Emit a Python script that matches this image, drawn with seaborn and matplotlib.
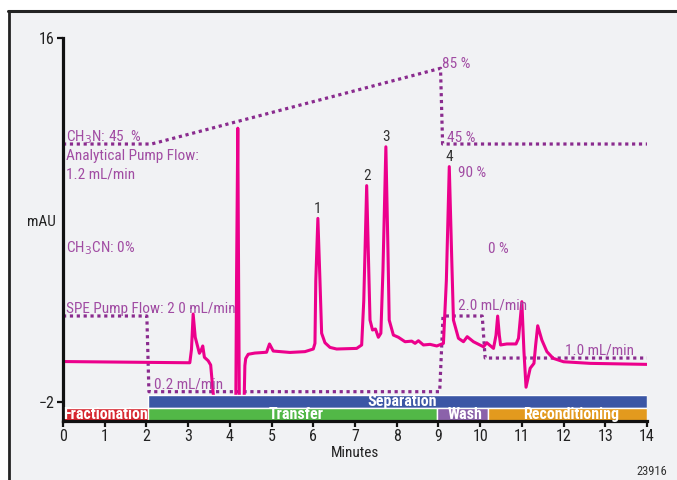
import matplotlib
matplotlib.use("Agg")
import matplotlib.pyplot as plt
from matplotlib import font_manager as fm
from matplotlib.patches import Rectangle
from matplotlib.lines import Line2D
import pandas as pd
import seaborn as sns

# UV trace of the online SPE / HPLC run (minutes, mAU)
trace_min = [0.0, 1.0, 2.0, 3.04, 3.08, 3.12, 3.17, 3.27, 3.31, 3.35, 3.39, 3.48,
             3.54, 3.60, 3.66, 3.75, 4.0, 4.14, 4.16, 4.19, 4.21, 4.23, 4.33, 4.36,
             4.38, 4.44, 4.6, 4.88, 4.95, 5.04, 5.44, 5.80, 6.0, 6.04, 6.06, 6.11,
             6.16, 6.20, 6.28, 6.40, 6.56, 7.04, 7.16, 7.21, 7.28, 7.33, 7.36, 7.42,
             7.49, 7.56, 7.62, 7.67, 7.74, 7.79, 7.82, 7.92, 8.04, 8.20, 8.36, 8.44,
             8.52, 8.64, 8.80, 8.96, 9.12, 9.19, 9.26, 9.32, 9.36, 9.48, 9.60, 9.69,
             9.84, 10.08, 10.16, 10.32, 10.38, 10.42, 10.46, 10.49, 10.64, 10.86,
             10.92, 11.00, 11.05, 11.10, 11.20, 11.29, 11.33, 11.38, 11.48, 11.60,
             11.75, 12.0, 12.64, 14.0]
trace_mau = [0.0, -0.02, -0.04, -0.06, 0.6, 2.35, 1.2, 0.41, 0.55, 0.77, 0.21, 0.04,
             -0.17, -1.56, -2.6, -3.1, -3.1, -3.0, 4.0, 11.54, 4.0, -3.0, -3.1, -0.2,
             0.15, 0.36, 0.42, 0.46, 0.87, 0.52, 0.45, 0.49, 0.62, 0.9, 4.0, 7.08,
             4.0, 1.40, 0.93, 0.70, 0.62, 0.65, 0.82, 3.0, 8.70, 4.5, 2.05, 1.56,
             1.61, 1.20, 1.40, 4.5, 10.62, 5.5, 2.05, 1.31, 1.20, 0.98, 1.01, 0.90,
             1.03, 0.82, 0.85, 0.77, 0.90, 4.0, 9.64, 5.0, 2.05, 1.15, 0.98, 1.23,
             0.98, 0.73, 0.93, 0.65, 1.3, 2.25, 1.3, 0.82, 0.87, 0.87,
             1.15, 2.96, 0.5, -1.27, -0.33, -0.09, 0.8, 1.77, 1.06, 0.49,
             0.16, -0.01, -0.09, -0.14]

# CH3CN gradient of the analytical pump (%)
grad_min = [0.0, 2.12, 9.05, 9.10, 14.0]
grad_pct = [45, 45, 85, 45, 45]

# SPE pump flow (mL/min)
flow_min = [0.0, 2.01, 2.06, 9.03, 9.11, 10.05, 10.12, 14.0]
flow_ml = [2.0, 2.0, 0.2, 0.2, 2.0, 2.0, 1.0, 1.0]

# method steps
phase_names = ["Fractionation", "Transfer", "Wash", "Reconditioning"]
phase_start = [0.0, 2.04, 8.97, 10.2]
phase_end = [2.04, 8.97, 10.2, 14.0]
phase_colors = ["#d7262f", "#52b847", "#8b62aa", "#e39a1e"]
sep_name = "Separation"
sep_start, sep_end = 2.04, 14.0

# numbered analyte peaks
peak_ids = ["1", "2", "3", "4"]
peak_min = [6.11, 7.28, 7.74, 9.26]
peak_mau = [7.08, 8.70, 10.62, 9.64]

x_ticks = list(range(0, 15))
y_ticks = [16, -2]

sns.set_style("ticks")

# prefer a narrow sans face for the labels
available = {f.name for f in fm.fontManager.ttflist}
condensed_faces = {f.name for f in fm.fontManager.ttflist
                   if f.stretch in ("condensed", "semi-condensed", "extra-condensed")}
family = []
for name in ["Liberation Sans Narrow", "Roboto Condensed", "Open Sans Condensed",
             "Noto Sans Condensed", "Arial Narrow"]:
    if name in available:
        family.append(name)
if not family:
    for name in ["DejaVu Sans", "Roboto", "Open Sans", "Noto Sans"]:
        if name in condensed_faces:
            family.append(name)
            plt.rcParams["font.stretch"] = "condensed"
            break
family.append("DejaVu Sans")
plt.rcParams["font.family"] = family
plt.rcParams["axes.unicode_minus"] = True

TRACE = "#ec008c"
DOT = "#8a2b8e"
NOTE = "#a14ca3"

fig = plt.figure(figsize=(6.77, 4.8), dpi=100)
fig.patch.set_facecolor("white")

# panel background with its dark top/left border
W, H = 677.0, 480.0
fig.patches.append(Rectangle((8 / W, 0), 1, 1 - 11 / H, transform=fig.transFigure,
                             facecolor="#f1f2f4", edgecolor="none", zorder=0))
fig.lines.append(Line2D([8 / W, 1], [1 - 11 / H, 1 - 11 / H], transform=fig.transFigure,
                        color="#232323", lw=2.2, zorder=1))
fig.lines.append(Line2D([8.5 / W, 8.5 / W], [0, 1 - 11 / H], transform=fig.transFigure,
                        color="#232323", lw=2.0, zorder=1))

ax = fig.add_axes([63 / W, 1 - 421 / H, 584 / W, 383 / H])
ax_g = ax.twinx()
ax_f = ax.twinx()
for a in (ax_g, ax_f):
    a.set_zorder(1)
    a.axis("off")
ax.set_zorder(3)
ax.patch.set_visible(False)

# gradient and flow programmes as dotted step lines
sns.lineplot(x=grad_min, y=grad_pct, ax=ax_g, color=DOT, lw=2.3,
             linestyle=(0, (1, 1.15)), sort=False, estimator=None)
sns.lineplot(x=flow_min, y=flow_ml, ax=ax_f, color=DOT, lw=2.3,
             linestyle=(0, (1, 1.15)), sort=False, estimator=None)
ax_g.set_ylim(-101.3, 101.0)
ax_f.set_ylim(-0.497, 8.61)

# chromatogram
trace = pd.DataFrame({"Minutes": trace_min, "mAU": trace_mau})
sns.lineplot(data=trace, x="Minutes", y="mAU", ax=ax, color=TRACE, lw=2.2,
             sort=False, estimator=None, zorder=1.5)

# method step bars
ax.barh(y=(-1.66 + -2.29) / 2, width=sep_end - sep_start, left=sep_start,
        height=0.63, color="#3b56a5", zorder=2)
ax.text(8.13, -1.975, sep_name, color="white",
        fontsize=11.5, fontweight="bold", ha="center", va="center", zorder=3)
for name, s, e, c in zip(phase_names, phase_start, phase_end, phase_colors):
    ax.barh(y=(-2.29 + -2.94) / 2, width=e - s, left=s, height=0.65,
            color=c, zorder=2)
label_min = {"Fractionation": 1.03, "Transfer": 5.6, "Wash": 9.64,
             "Reconditioning": 12.19}
for name in phase_names:
    ax.text(label_min[name], -2.6, name, color="white", fontsize=11.5,
            fontweight="bold", ha="center", va="center", zorder=3)

# peak numbers
for pid, t, v in zip(peak_ids, peak_min, peak_mau):
    ax.annotate(pid, (t, v), xytext=(0, 4), textcoords="offset points",
                ha="center", va="baseline", fontsize=11, color="#333333")

# programme annotations
notes = [
    (0.07, 10.87, "CH$_3$N: 45  %"),
    (0.07, 9.97, "Analytical Pump Flow:"),
    (0.07, 9.06, "1.2 mL/min"),
    (0.07, 5.38, "CH$_3$CN: 0%"),
    (0.07, 2.41, "SPE Pump Flow: 2 0 mL/min"),
    (2.17, -1.32, "0.2 mL/min"),
    (9.09, 14.53, "85 %"),
    (9.21, 10.87, "45 %"),
    (9.46, 9.14, "90 %"),
    (10.19, 5.38, "0 %"),
    (9.46, 2.55, "2.0 mL/min"),
    (12.04, 0.37, "1.0 mL/min"),
]
for t, v, s in notes:
    ax.text(t, v, s, color=NOTE, fontsize=11, ha="left", va="baseline", zorder=3)

ax.text(-0.17, 6.7, "mAU", fontsize=11, ha="right", va="baseline",
        color="#222222", clip_on=False)

ax.set_xlim(0, 14)
ax.set_ylim(-2.94, 16)
ax.set_xticks(x_ticks)
ax.set_yticks(y_ticks)
ax.set_xlabel("Minutes", fontsize=11, labelpad=1, color="#222222")
ax.set_ylabel("")
for side in ("top", "right"):
    ax.spines[side].set_visible(False)
for side in ("left", "bottom"):
    ax.spines[side].set_linewidth(2.3)
    ax.spines[side].set_color("#111111")
ax.spines["left"].set_bounds(-2.94, 16)
ax.tick_params(direction="out", length=4, width=1.6, labelsize=11.5, pad=2,
               colors="#111111", labelcolor="#222222")

fig.text(667 / W, 1 - 475 / H, "23916", fontsize=9, ha="right", va="baseline",
         color="#333333")

fig.savefig("out.png", dpi=100)
